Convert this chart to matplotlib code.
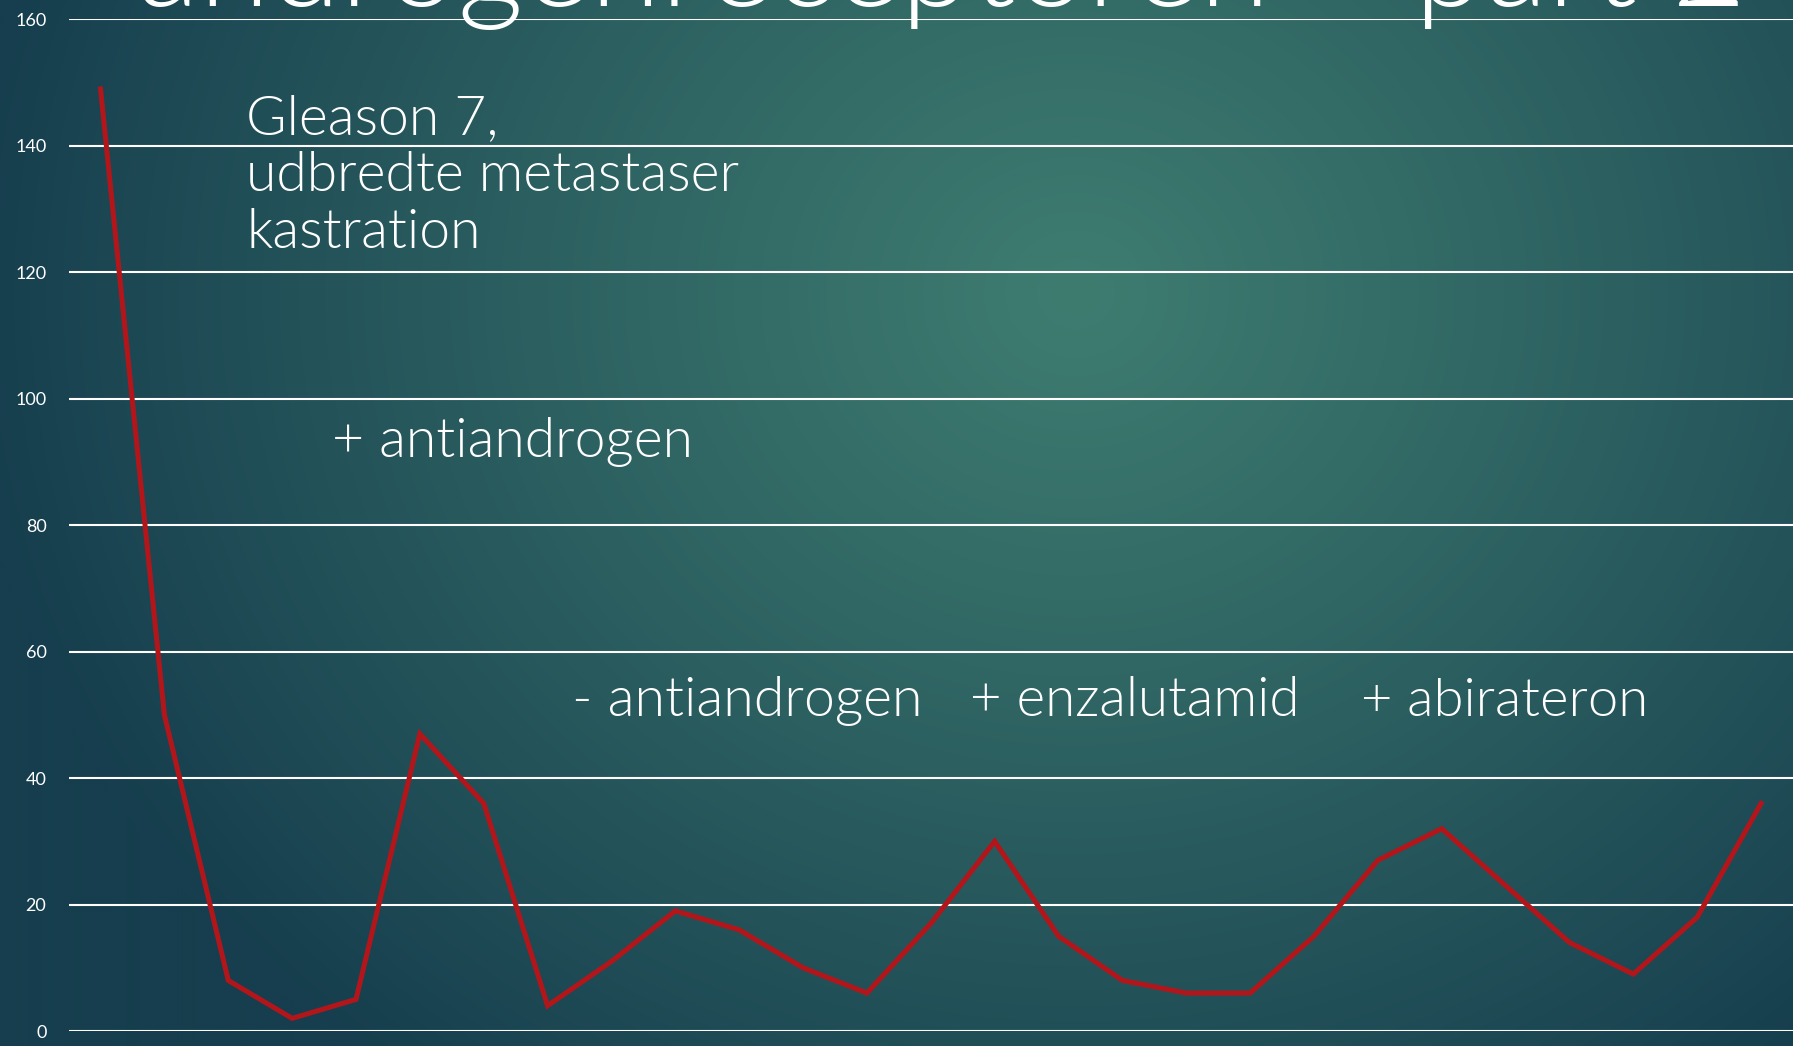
import numpy as np
import matplotlib
matplotlib.use("Agg")
import matplotlib.pyplot as plt

# ---- data ----
psa_values = [149, 50, 8, 2, 5, 47, 36, 4, 11, 19, 16, 10, 6, 17, 30, 15, 8, 6, 6, 15, 27, 32, 23, 14, 9, 18, 36]
y_ticks = [0, 20, 40, 60, 80, 100, 120, 140, 160]
title_text = "androgenreceptoren \u2013 part 2"
annotation_lines = ["Gleason 7,", "udbredte metastaser", "kastration"]
label_add_anti = "+ antiandrogen"
label_rem_anti = "- antiandrogen"
label_enza = "+ enzalutamid"
label_abi = "+ abirateron"

W, H = 1793, 1046
DPI = 100
FONT = ["Lato", "DejaVu Sans"]
WEIGHT = 300

fig = plt.figure(figsize=(W / DPI, H / DPI), dpi=DPI)

# background radial gradient
bg = fig.add_axes([0, 0, 1, 1], zorder=-10)
yy, xx = np.mgrid[0:H:2, 0:W:2]
cx, cy = 0.60 * W, 0.28 * H
d = np.sqrt(((xx - cx) / (0.62 * W)) ** 2 + ((yy - cy) / (0.95 * H)) ** 2)
t = np.clip(d, 0, 1) ** 1.1
c_in = np.array([62, 124, 112]) / 255
c_out = np.array([22, 62, 78]) / 255
img = c_in[None, None, :] * (1 - t[..., None]) + c_out[None, None, :] * t[..., None]
bg.imshow(img, aspect="auto", extent=[0, 1, 0, 1], origin="upper", interpolation="bilinear")
bg.set_axis_off()

# main axes
left = 68.6 / W
bottom = (H - 1031) / H
top = (H - 19.4) / H
ax = fig.add_axes([left, bottom, 1 - left, top - bottom])
ax.set_facecolor("none")
x = np.arange(len(psa_values))
ax.plot(x, psa_values, color="#b3161a", lw=3.6, solid_joinstyle="miter", zorder=3)
ax.set_xlim(-0.5, len(psa_values) - 0.5)
ax.set_ylim(0, 160)
ax.set_yticks(y_ticks)
ax.set_xticks([])
ax.yaxis.grid(True, color="white", lw=1.5)
ax.set_axisbelow(True)
for s in ax.spines.values():
    s.set_visible(False)
ax.tick_params(axis="y", length=0, pad=16, labelsize=13, labelcolor="white")
for lbl in ax.get_yticklabels():
    lbl.set_family(FONT)
    lbl.set_fontweight("normal")

fig.canvas.draw()
renderer = fig.canvas.get_renderer()


def fit_text(xpx, ypx_from_top, s, target_w, base=30, **kw):
    t = fig.text(xpx / W, 1 - ypx_from_top / H, s, color="white", family=FONT,
                 fontweight=WEIGHT, fontsize=base, ha="left", va="baseline", **kw)
    w = t.get_window_extent(renderer).width
    t.set_fontsize(base * target_w / w)
    return t


# title (mostly cut off at the top, as in the reference)
fit_text(137, 6, title_text, 1613, base=60)

# annotations
t1 = fit_text(246, 191, annotation_lines[1], 492)
fs = t1.get_fontsize()
fig.text(246 / W, 1 - 134 / H, annotation_lines[0], color="white", family=FONT,
         fontweight=WEIGHT, fontsize=fs, va="baseline")
fig.text(246 / W, 1 - 248 / H, annotation_lines[2], color="white", family=FONT,
         fontweight=WEIGHT, fontsize=fs, va="baseline")

fit_text(332, 457, label_add_anti, 360)
fit_text(572, 716, label_rem_anti, 350)
fit_text(970, 716, label_enza, 328)
fit_text(1361, 716, label_abi, 286)

fig.savefig("out.png", dpi=DPI)
